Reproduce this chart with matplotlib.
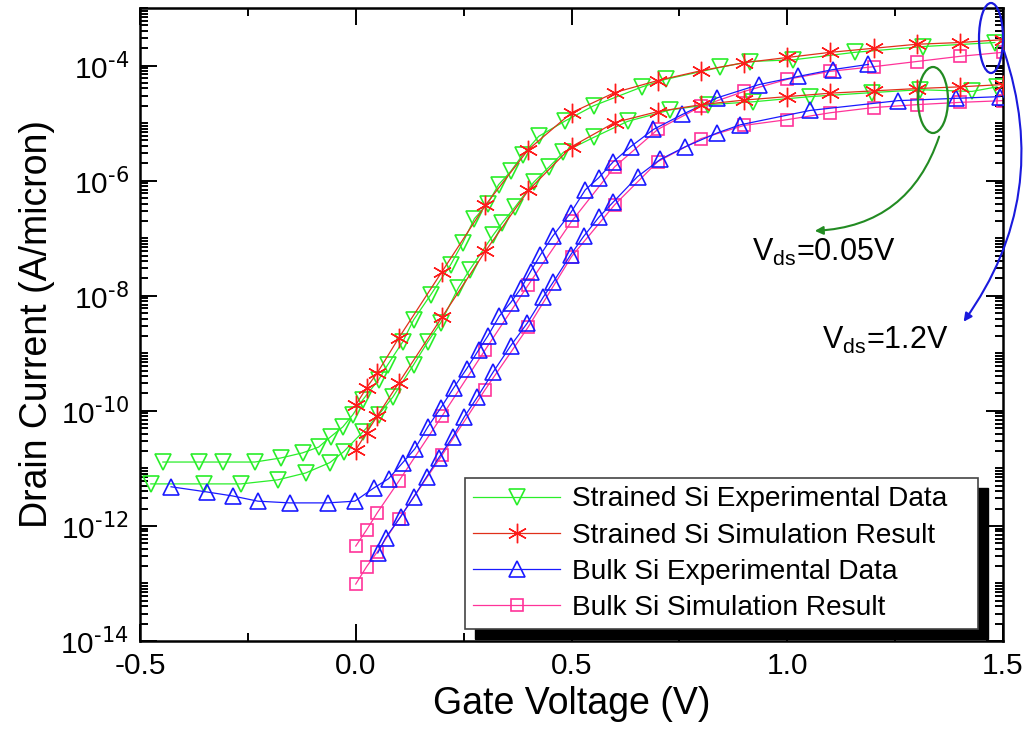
import numpy as np
import matplotlib
matplotlib.use("Agg")
import matplotlib.pyplot as plt
from matplotlib import font_manager
from matplotlib.patches import Ellipse, FancyArrowPatch, Rectangle
from matplotlib.ticker import FixedLocator, LogLocator, FuncFormatter, NullFormatter

# ---------------- data (log10 of drain current, A/micron) ----------------
# Strained Si experimental, Vds = 1.2 V
se_hi_v = [-0.447, -0.363, -0.308, -0.234, -0.174, -0.123, -0.086, -0.058, -0.030, -0.007,
           0.016, 0.053, 0.074, 0.109, 0.134, 0.174, 0.220, 0.248, 0.275, 0.306, 0.331,
           0.359, 0.387, 0.424, 0.486, 0.551, 0.664, 0.718, 0.845, 0.914, 1.014, 1.157,
           1.315, 1.481]
se_hi_log = [-10.89, -10.89, -10.89, -10.89, -10.82, -10.73, -10.63, -10.45, -10.28, -10.07,
             -9.81, -9.46, -9.20, -8.80, -8.42, -7.98, -7.46, -7.08, -6.66, -6.40, -6.07,
             -5.84, -5.55, -5.23, -4.96, -4.70, -4.37, -4.24, -4.03, -3.93, -3.90, -3.77,
             -3.67, -3.60]
# Strained Si experimental, Vds = 0.05 V
se_lo_v = [-0.475, -0.352, -0.266, -0.181, -0.116, -0.060, -0.028, 0.016, 0.053, 0.086,
           0.134, 0.167, 0.197, 0.238, 0.264, 0.319, 0.340, 0.370, 0.412, 0.447, 0.481,
           0.551, 0.630, 0.729, 0.817, 0.921, 1.053, 1.197, 1.308, 1.428, 1.486]
se_lo_log = [-11.27, -11.27, -11.27, -11.20, -11.08, -10.90, -10.71, -10.37, -10.07, -9.76,
             -9.20, -8.80, -8.47, -7.86, -7.55, -6.94, -6.73, -6.45, -6.03, -5.77, -5.51,
             -5.25, -4.97, -4.77, -4.68, -4.63, -4.54, -4.47, -4.42, -4.45, -4.37]

# Simulation gate-voltage points
sim_v = [0.0, 0.025, 0.05, 0.1, 0.2, 0.3, 0.4, 0.5, 0.6, 0.7, 0.8, 0.9, 1.0, 1.1, 1.2, 1.3, 1.4, 1.5]
# Strained Si simulation
ss_hi_log = [-9.90, -9.60, -9.34, -8.73, -7.58, -6.43, -5.46, -4.82, -4.47, -4.26, -4.09,
             -3.95, -3.86, -3.77, -3.70, -3.63, -3.60, -3.55]
ss_lo_log = [-10.68, -10.38, -10.09, -9.51, -8.37, -7.23, -6.17, -5.41, -4.99, -4.80, -4.68,
             -4.60, -4.54, -4.48, -4.44, -4.40, -4.37, -4.33]
# Bulk Si simulation
bs_hi_log = [-12.35, -12.07, -11.77, -11.22, -10.09, -8.94, -7.81, -6.71, -5.76, -5.11, -4.71,
             -4.45, -4.24, -4.10, -4.02, -3.93, -3.84, -3.77]
bs_lo_log = [-13.01, -12.71, -12.45, -11.88, -10.77, -9.63, -8.54, -7.32, -6.42, -5.67, -5.27,
             -5.04, -4.94, -4.82, -4.73, -4.68, -4.64, -4.61]

# Bulk Si experimental, Vds = 1.2 V
be_hi_v = [-0.428, -0.345, -0.285, -0.227, -0.153, -0.065, -0.002, 0.042, 0.076, 0.109,
           0.137, 0.167, 0.197, 0.227, 0.257, 0.285, 0.306, 0.333, 0.359, 0.384, 0.405,
           0.428, 0.456, 0.498, 0.532, 0.563, 0.597, 0.637, 0.690, 0.757, 0.838, 0.935,
           1.025, 1.106, 1.188]
be_hi_log = [-11.32, -11.41, -11.48, -11.57, -11.60, -11.60, -11.57, -11.34, -11.18, -10.90,
             -10.66, -10.28, -9.95, -9.60, -9.27, -8.94, -8.70, -8.35, -8.12, -7.86, -7.58,
             -7.29, -6.97, -6.56, -6.16, -5.95, -5.67, -5.41, -5.11, -4.85, -4.56, -4.33,
             -4.19, -4.07, -3.98]
# Bulk Si experimental, Vds = 0.05 V
be_lo_v = [0.051, 0.069, 0.104, 0.134, 0.164, 0.192, 0.225, 0.252, 0.282, 0.319, 0.359,
           0.398, 0.435, 0.458, 0.498, 0.528, 0.563, 0.597, 0.653, 0.706, 0.764, 0.838,
           0.891, 1.053, 1.257, 1.391, 1.493]
be_lo_log = [-12.47, -12.21, -11.84, -11.50, -11.15, -10.82, -10.45, -10.10, -9.76, -9.32,
             -8.87, -8.47, -8.02, -7.76, -7.29, -6.97, -6.64, -6.37, -5.93, -5.63, -5.41,
             -5.17, -5.03, -4.78, -4.61, -4.57, -4.54]

x_ticks = [-0.5, 0.0, 0.5, 1.0, 1.5]
x_tick_labels = ["-0.5", "0.0", "0.5", "1.0", "1.5"]
legend_labels = ["Strained Si Experimental Data", "Strained Si Simulation Result",
                 "Bulk Si Experimental Data", "Bulk Si Simulation Result"]

# ---------------- fonts ----------------
fam = "Liberation Sans"
narrow = False
try:
    font_manager.findfont(font_manager.FontProperties(family="Liberation Sans Narrow"),
                          fallback_to_default=False)
    fam = "Liberation Sans Narrow"
    narrow = True
except Exception:
    pass
plt.rcParams["font.family"] = [fam, "DejaVu Sans"]
plt.rcParams["mathtext.default"] = "regular"
s_lab = 30 if narrow else 27
s_tick = 24 if narrow else 21.5
s_leg = 24 if narrow else 20.2
s_ann = 25 if narrow else 22

W, H = 1025, 741
fig = plt.figure(figsize=(W / 100, H / 100), dpi=100)
ax = fig.add_axes([140 / W, 1 - 641 / H, (1003 - 140) / W, (641 - 8) / H])

def P(v):
    return 10.0 ** np.asarray(v)

green = "#2aee2a"
red = "#ff1a1a"
redline = "#e0301a"
blue = "#1a1aff"
pink = "#ff3399"
lw = 0.9

ax.plot(se_hi_v, P(se_hi_log), color=green, lw=lw, marker="v", ms=11, mfc="none",
        mec=green, mew=1.2, label=legend_labels[0], zorder=3)
ax.plot(se_lo_v, P(se_lo_log), color=green, lw=lw, marker="v", ms=11, mfc="none",
        mec=green, mew=1.2, zorder=3)
ax.plot(sim_v, P(ss_hi_log), color=redline, lw=lw, marker=(6, 2, 0), ms=14, mec=red, mew=1.0,
        label=legend_labels[1], zorder=4)
ax.plot(sim_v, P(ss_lo_log), color=redline, lw=lw, marker=(6, 2, 0), ms=14, mec=red, mew=1.0,
        zorder=4)
ax.plot(be_hi_v, P(be_hi_log), color=blue, lw=lw, marker="^", ms=11, mfc="none",
        mec=blue, mew=1.2, label=legend_labels[2], zorder=3)
ax.plot(be_lo_v, P(be_lo_log), color=blue, lw=lw, marker="^", ms=11, mfc="none",
        mec=blue, mew=1.2, zorder=3)
ax.plot(sim_v, P(bs_hi_log), color=pink, lw=lw, marker="s", ms=9, mfc="none",
        mec=pink, mew=1.2, label=legend_labels[3], zorder=2)
ax.plot(sim_v, P(bs_lo_log), color=pink, lw=lw, marker="s", ms=9, mfc="none",
        mec=pink, mew=1.2, zorder=2)

ax.set_yscale("log")
ax.set_xlim(-0.5, 1.5)
ax.set_ylim(1e-14, 1e-3)
ax.xaxis.set_major_locator(FixedLocator(x_ticks))
ax.set_xticklabels(x_tick_labels)
ax.xaxis.set_minor_locator(FixedLocator([-0.25, 0.25, 0.75, 1.25]))
ax.yaxis.set_major_locator(FixedLocator([10.0 ** e for e in range(-14, -3, 2)]))
ax.yaxis.set_major_formatter(FuncFormatter(
    lambda v, p: r"10$^{\text{%d}}$" % int(round(np.log10(v)))))
ax.yaxis.set_minor_locator(LogLocator(base=10, subs=np.arange(1, 10), numticks=50))
ax.yaxis.set_minor_formatter(NullFormatter())
ax.tick_params(which="both", direction="in", top=True, right=True, width=1.4, colors="black")
ax.tick_params(which="major", length=12, labelsize=s_tick, pad=8)
ax.tick_params(which="minor", length=6)
for sp in ax.spines.values():
    sp.set_linewidth(1.8)

ax.set_xlabel("Gate Voltage (V)", fontsize=s_lab, labelpad=4)
ax.set_ylabel("Drain Current (A/micron)", fontsize=s_lab, labelpad=4)

leg = ax.legend(loc="upper left",
                bbox_to_anchor=(465 / W, 1 - 478 / H - 0.01, 513 / W, 0.01),
                bbox_transform=fig.transFigure, mode="expand", fontsize=s_leg, frameon=True,
                fancybox=False, edgecolor="#444444", framealpha=1, handlelength=3.1,
                borderpad=0.3, labelspacing=0.36, handletextpad=0.4, borderaxespad=0)
leg.get_frame().set_linewidth(1.2)
leg.set_zorder(10)

fig.canvas.draw()
bb = leg.get_window_extent()
shadow = Rectangle((bb.x0 + 10, bb.y0 - 10), bb.width, bb.height, transform=None,
                   facecolor="black", edgecolor="black", zorder=9, clip_on=False)
ax.add_artist(shadow)

def F(x, y):
    return (x / W, 1 - y / H)

# ellipses
fig.add_artist(Ellipse(F(991, 38), 24 / W, 70 / H, transform=fig.transFigure,
                       fill=False, edgecolor="#1a1add", lw=1.6, zorder=20))
fig.add_artist(Ellipse(F(933, 100), 30 / W, 66 / H, transform=fig.transFigure,
                       fill=False, edgecolor="#228b22", lw=1.6, zorder=20))
# arrows
fig.add_artist(FancyArrowPatch(F(1003, 48), F(962, 324), transform=fig.transFigure,
                               connectionstyle="arc3,rad=-0.26", arrowstyle="-|>",
                               mutation_scale=12, color="#1a1add", lw=1.5, zorder=20))
fig.add_artist(FancyArrowPatch(F(940, 134), F(812, 231), transform=fig.transFigure,
                               connectionstyle="arc3,rad=-0.35", arrowstyle="-|>",
                               mutation_scale=12, color="#228b22", lw=1.5, zorder=20))
fig.text(752 / W, 1 - 252 / H, r"V$_{ds}$=0.05V", fontsize=s_ann, va="center", ha="left")
fig.text(822 / W, 1 - 340 / H, r"V$_{ds}$=1.2V", fontsize=s_ann, va="center", ha="left")

fig.savefig("out.png", dpi=100)
